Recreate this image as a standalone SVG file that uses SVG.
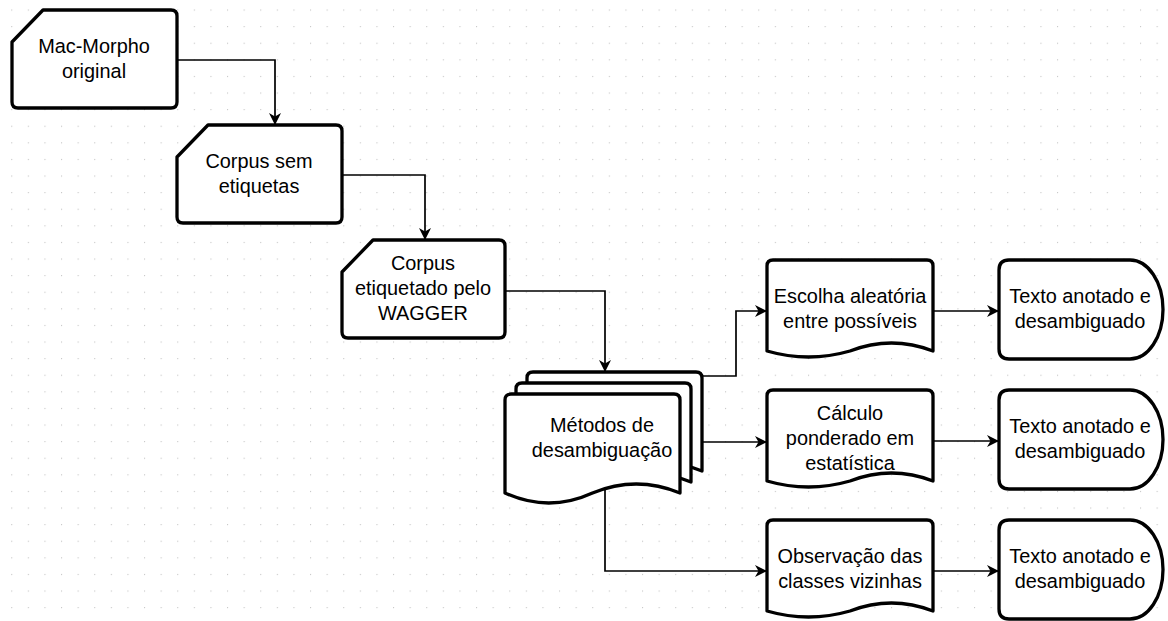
<svg xmlns="http://www.w3.org/2000/svg" width="1168" height="621" viewBox="0 0 1168 621">
<defs>
<pattern id="grid" x="11.2" y="9.5" width="16.6" height="16.6" patternUnits="userSpaceOnUse"><rect width="1.1" height="1.1" fill="#c4c4c4"/></pattern>
<marker id="arr" markerUnits="userSpaceOnUse" markerWidth="13" markerHeight="13" refX="12" refY="6" orient="auto"><path d="M0,0 L12,6 L0,12 L3.5,6 Z" fill="#000"/></marker>
<style>
.n{fill:#fff;stroke:#000;stroke-width:3.3;stroke-linejoin:round}
.c{fill:none;stroke:#000;stroke-width:1.7;marker-end:url(#arr)}
.c0{fill:none;stroke:#000;stroke-width:1.7}
text{font-family:"Liberation Sans",Arial,sans-serif;font-size:19.9px;fill:#000;text-anchor:middle}
</style>
</defs>
<rect width="1168" height="621" fill="#fff"/>
<rect width="1168" height="621" fill="url(#grid)"/>
<g id="connectors">
<path class="c" d="M177,60 H275 V125"/>
<path class="c" d="M342,175 H425 V240"/>
<path class="c" d="M505,291 H605 V372"/>
<path class="c" d="M702,376 H736 V311 H767"/>
<path class="c" d="M702,442 H767"/>
<path class="c" d="M605,489 V571 H767"/>
<path class="c" d="M933,311 H999"/>
<path class="c" d="M933,441 H999"/>
<path class="c" d="M933,571 H999"/>
</g>
<g id="n1">
<path class="n" d="M12,42 L43,10 H171 Q177,10 177,16 V102 Q177,108 171,108 H18 Q12,108 12,102 Z"/>
<text x="94" y="53">Mac-Morpho</text><text x="94" y="78">original</text>
</g>
<g id="n2">
<path class="n" d="M177,157 L208,125 H336 Q342,125 342,131 V217 Q342,223 336,223 H183 Q177,223 177,217 Z"/>
<text x="259" y="168">Corpus sem</text><text x="259" y="193">etiquetas</text>
</g>
<g id="n3">
<path class="n" d="M342,272 L373,240 H499 Q505,240 505,246 V332 Q505,338 499,338 H348 Q342,338 342,332 Z"/>
<text x="423" y="270">Corpus</text><text x="423" y="295">etiquetado pelo</text><text x="423" y="320">WAGGER</text>
</g>
<g id="n4">
<path class="n" d="M527,471 L527,378 Q527,372 533,372 L696,372 Q702,372 702,378 L702,471 Q658.25,453 614.5,471 Q570.75,491 527,471 Z"/>
<path class="n" d="M516,482 L516,389 Q516,383 522,383 L685,383 Q691,383 691,389 L691,482 Q647.25,464 603.5,482 Q559.75,502 516,482 Z"/>
<path class="n" d="M505,493 L505,400 Q505,394 511,394 L674,394 Q680,394 680,400 L680,493 Q636.25,475 592.5,493 Q548.75,513 505,493 Z"/>
<text x="602" y="432">Métodos de</text><text x="602" y="457">desambiguação</text>
</g>
<g id="n5">
<path class="n" d="M767,351 L767,266 Q767,260 773,260 L927,260 Q933,260 933,266 L933,351 Q891.5,335 850,351 Q808.5,363 767,351 Z"/>
<text x="850" y="303">Escolha aleatória</text><text x="850" y="328">entre possíveis</text>
</g>
<g id="n6">
<path class="n" d="M767,481 L767,396 Q767,390 773,390 L927,390 Q933,390 933,396 L933,481 Q891.5,465 850,481 Q808.5,493 767,481 Z"/>
<text x="850" y="420">Cálculo</text><text x="850" y="445">ponderado em</text><text x="850" y="470">estatística</text>
</g>
<g id="n7">
<path class="n" d="M767,611 L767,526 Q767,520 773,520 L927,520 Q933,520 933,526 L933,611 Q891.5,595 850,611 Q808.5,623 767,611 Z"/>
<text x="850" y="563">Observação das</text><text x="850" y="588">classes vizinhas</text>
</g>
<g id="n8">
<path class="n" d="M1009,260 H1130 A33,49.5 0 0 1 1130,359 H1009 Q999,359 999,349 V270 Q999,260 1009,260 Z"/>
<text x="1080" y="303">Texto anotado e</text><text x="1080" y="328">desambiguado</text>
</g>
<g id="n9">
<path class="n" d="M1009,390 H1130 A33,49.5 0 0 1 1130,489 H1009 Q999,489 999,479 V400 Q999,390 1009,390 Z"/>
<text x="1080" y="433">Texto anotado e</text><text x="1080" y="458">desambiguado</text>
</g>
<g id="n10">
<path class="n" d="M1009,520 H1130 A33,49.5 0 0 1 1130,619 H1009 Q999,619 999,609 V530 Q999,520 1009,520 Z"/>
<text x="1080" y="563">Texto anotado e</text><text x="1080" y="588">desambiguado</text>
</g>
</svg>
